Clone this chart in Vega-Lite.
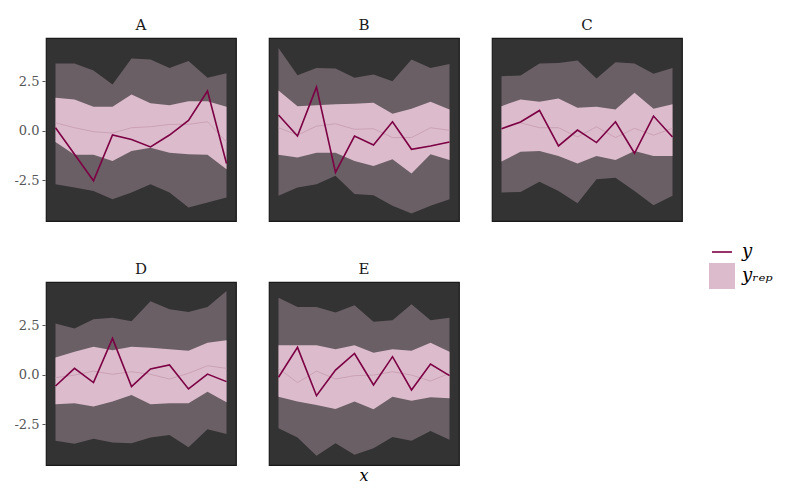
{
  "$schema": "https://vega.github.io/schema/vega-lite/v6.json",
  "background": "white",
  "padding": {"left": 13, "top": 17, "right": 5, "bottom": 5},
  "data": {"values": [
    {"g":"A","x":1,"y":0.15,"ll":-2.70,"l":-0.57,"m":0.40,"h":1.66,"hh":3.39},
    {"g":"A","x":2,"y":-1.19,"ll":-2.87,"l":-1.22,"m":0.15,"h":1.58,"hh":3.39},
    {"g":"A","x":3,"y":-2.53,"ll":-3.04,"l":-1.22,"m":-0.05,"h":1.21,"hh":3.04},
    {"g":"A","x":4,"y":-0.22,"ll":-3.46,"l":-1.53,"m":-0.12,"h":1.21,"hh":2.33},
    {"g":"A","x":5,"y":-0.44,"ll":-3.12,"l":-1.02,"m":0.15,"h":1.83,"hh":3.64},
    {"g":"A","x":6,"y":-0.82,"ll":-2.70,"l":-0.86,"m":0.20,"h":1.38,"hh":3.59},
    {"g":"A","x":7,"y":-0.22,"ll":-3.12,"l":-1.11,"m":0.32,"h":1.28,"hh":3.17},
    {"g":"A","x":8,"y":0.52,"ll":-3.88,"l":-1.19,"m":0.32,"h":1.49,"hh":3.52},
    {"g":"A","x":9,"y":2.00,"ll":-3.62,"l":-1.22,"m":0.45,"h":1.49,"hh":2.67},
    {"g":"A","x":10,"y":-1.66,"ll":-3.37,"l":-1.95,"m":-0.57,"h":1.21,"hh":2.90},
    {"g":"B","x":1,"y":0.79,"ll":-3.29,"l":-1.22,"m":0.15,"h":2.03,"hh":4.18},
    {"g":"B","x":2,"y":-0.27,"ll":-2.87,"l":-1.36,"m":-0.22,"h":1.24,"hh":2.80},
    {"g":"B","x":3,"y":2.20,"ll":-2.70,"l":-1.11,"m":0.23,"h":1.29,"hh":3.17},
    {"g":"B","x":4,"y":-2.11,"ll":-2.28,"l":-1.11,"m":0.35,"h":1.33,"hh":3.14},
    {"g":"B","x":5,"y":-0.27,"ll":-3.20,"l":-1.53,"m":0.07,"h":1.36,"hh":2.67},
    {"g":"B","x":6,"y":-0.72,"ll":-3.26,"l":-1.78,"m":0.10,"h":1.41,"hh":2.84},
    {"g":"B","x":7,"y":0.45,"ll":-3.79,"l":-1.44,"m":-0.35,"h":0.86,"hh":2.50},
    {"g":"B","x":8,"y":-0.94,"ll":-4.18,"l":-2.16,"m":-0.35,"h":1.11,"hh":3.59},
    {"g":"B","x":9,"y":-0.77,"ll":-3.79,"l":-1.19,"m":0.15,"h":1.46,"hh":3.17},
    {"g":"B","x":10,"y":-0.57,"ll":-3.46,"l":-1.48,"m":0.02,"h":1.07,"hh":3.37},
    {"g":"C","x":1,"y":0.10,"ll":-3.12,"l":-1.56,"m":0.07,"h":1.24,"hh":2.75},
    {"g":"C","x":2,"y":0.44,"ll":-3.09,"l":-1.06,"m":0.40,"h":1.58,"hh":2.79},
    {"g":"C","x":3,"y":1.02,"ll":-2.58,"l":-1.02,"m":0.15,"h":1.46,"hh":3.39},
    {"g":"C","x":4,"y":-0.77,"ll":-3.04,"l":-1.28,"m":0.15,"h":1.63,"hh":3.42},
    {"g":"C","x":5,"y":0.03,"ll":-3.67,"l":-1.66,"m":-0.32,"h":1.16,"hh":3.54},
    {"g":"C","x":6,"y":-0.60,"ll":-2.45,"l":-1.28,"m":0.20,"h":1.21,"hh":2.63},
    {"g":"C","x":7,"y":0.45,"ll":-2.37,"l":-1.48,"m":-0.35,"h":1.07,"hh":3.46},
    {"g":"C","x":8,"y":-1.14,"ll":-3.04,"l":-1.02,"m":0.12,"h":1.91,"hh":3.39},
    {"g":"C","x":9,"y":0.74,"ll":-3.76,"l":-1.28,"m":-0.23,"h":1.11,"hh":2.87},
    {"g":"C","x":10,"y":-0.32,"ll":-3.29,"l":-1.28,"m":0.12,"h":1.33,"hh":3.17},
    {"g":"D","x":1,"y":-0.57,"ll":-3.34,"l":-1.49,"m":-0.15,"h":0.87,"hh":2.58},
    {"g":"D","x":2,"y":0.32,"ll":-3.49,"l":-1.44,"m":-0.02,"h":1.16,"hh":2.33},
    {"g":"D","x":3,"y":-0.40,"ll":-3.24,"l":-1.61,"m":0.18,"h":1.41,"hh":2.80},
    {"g":"D","x":4,"y":1.83,"ll":-3.42,"l":-1.36,"m":0.02,"h":1.24,"hh":2.87},
    {"g":"D","x":5,"y":-0.60,"ll":-3.46,"l":-1.02,"m":0.15,"h":1.41,"hh":2.70},
    {"g":"D","x":6,"y":0.29,"ll":-3.17,"l":-1.49,"m":0.02,"h":1.36,"hh":3.71},
    {"g":"D","x":7,"y":0.49,"ll":-3.04,"l":-1.44,"m":-0.22,"h":1.29,"hh":3.31},
    {"g":"D","x":8,"y":-0.72,"ll":-3.67,"l":-1.44,"m":0.07,"h":1.21,"hh":3.17},
    {"g":"D","x":9,"y":0.03,"ll":-2.75,"l":-0.86,"m":0.45,"h":1.61,"hh":3.42},
    {"g":"D","x":10,"y":-0.35,"ll":-3.00,"l":-1.39,"m":0.32,"h":1.74,"hh":4.23},
    {"g":"E","x":1,"y":-0.13,"ll":-2.70,"l":-1.11,"m":0.32,"h":1.49,"hh":3.88},
    {"g":"E","x":2,"y":1.38,"ll":-3.17,"l":-1.36,"m":-0.40,"h":1.49,"hh":3.42},
    {"g":"E","x":3,"y":-1.06,"ll":-4.09,"l":-1.53,"m":0.18,"h":1.49,"hh":3.42},
    {"g":"E","x":4,"y":0.23,"ll":-3.46,"l":-1.73,"m":-0.22,"h":1.28,"hh":3.14},
    {"g":"E","x":5,"y":1.07,"ll":-4.04,"l":-1.36,"m":-0.05,"h":1.49,"hh":3.51},
    {"g":"E","x":6,"y":-0.52,"ll":-3.71,"l":-1.74,"m":-0.02,"h":1.11,"hh":2.67},
    {"g":"E","x":7,"y":0.91,"ll":-3.15,"l":-1.11,"m":0.15,"h":1.29,"hh":2.75},
    {"g":"E","x":8,"y":-0.77,"ll":-3.34,"l":-1.31,"m":-0.02,"h":1.21,"hh":3.56},
    {"g":"E","x":9,"y":0.54,"ll":-2.84,"l":-1.14,"m":-0.32,"h":1.61,"hh":2.75},
    {"g":"E","x":10,"y":-0.05,"ll":-3.29,"l":-1.19,"m":0.07,"h":1.16,"hh":2.87}
  ]},
  "facet": {
    "field": "g",
    "type": "nominal",
    "header": {
      "title": "x",
      "titleOrient": "bottom",
      "labelOrient": "top",
      "titleFont": "DejaVu Serif",
      "titleFontSize": 16,
      "titleFontStyle": "italic",
      "titleFontWeight": "normal",
      "titleColor": "black",
      "titlePadding": 2,
      "labelFont": "DejaVu Serif",
      "labelFontSize": 15,
      "labelColor": "#1a1a1a",
      "labelPadding": 5
    }
  },
  "columns": 3,
  "spacing": {"column": 31, "row": 39},
  "spec": {
    "width": 190,
    "height": 183,
    "encoding": {
      "x": {"field": "x", "type": "quantitative", "scale": {"domain": [0.5, 10.5], "nice": false, "zero": false}, "axis": null}
    },
    "layer": [
      {
        "mark": {"type": "area", "color": "#6b5f66", "opacity": 1},
        "encoding": {
          "y": {"field": "ll", "type": "quantitative", "scale": {"domain": [-4.56, 4.68], "nice": false, "zero": false},
            "axis": {"title": null, "values": [-2.5, 0, 2.5], "labelExpr": "replace(format(datum.value, '.1f'), '\u2212', '-')", "grid": false, "domain": false, "ticks": true, "tickSize": 3, "tickColor": "#555", "labelColor": "#555", "labelFont": "DejaVu Serif", "labelFontSize": 13, "labelPadding": 3}},
          "y2": {"field": "hh"}
        }
      },
      {
        "mark": {"type": "area", "opacity": 1},
        "encoding": {
          "y": {"field": "l", "type": "quantitative"},
          "y2": {"field": "h"},
          "color": {"datum": "y\u1d63\u2091\u209a", "type": "nominal"}
        }
      },
      {
        "mark": {"type": "line", "color": "#c799b0", "strokeWidth": 0.8},
        "encoding": {
          "y": {"field": "m", "type": "quantitative"}
        }
      },
      {
        "mark": {"type": "line", "strokeWidth": 1.6},
        "encoding": {
          "y": {"field": "y", "type": "quantitative"},
          "color": {"datum": "y", "type": "nominal",
            "scale": {"domain": ["y", "y\u1d63\u2091\u209a"], "range": ["#7c0043", "#dcbccc"]},
            "legend": {
              "title": null,
              "orient": "none",
              "legendX": 667,
              "legendY": 205,
              "labelFont": "DejaVu Serif",
              "labelFontSize": 18,
              "labelFontStyle": "italic",
              "labelColor": "black",
              "symbolSize": 676,
              "rowPadding": 2,
              "labelOffset": 11,
              "encode": {
                "symbols": {
                  "update": {
                    "shape": {"signal": "datum.value === 'y' ? 'stroke' : 'square'"},
                    "size": {"signal": "datum.value === 'y' ? 400 : 676"},
                    "strokeWidth": {"signal": "datum.value === 'y' ? 1.6 : 0"},
                    "fill": {"signal": "datum.value === 'y' ? 'transparent' : '#dcbccc'"},
                    "stroke": {"signal": "datum.value === 'y' ? '#7c0043' : '#dcbccc'"},
                    "opacity": {"value": 1}
                  }
                }
              }
            }
          }
        }
      }
    ]
  },
  "config": {
    "view": {"fill": "#333333", "stroke": "#1a1a1a", "strokeWidth": 1.2},
    "font": "DejaVu Serif"
  }
}
